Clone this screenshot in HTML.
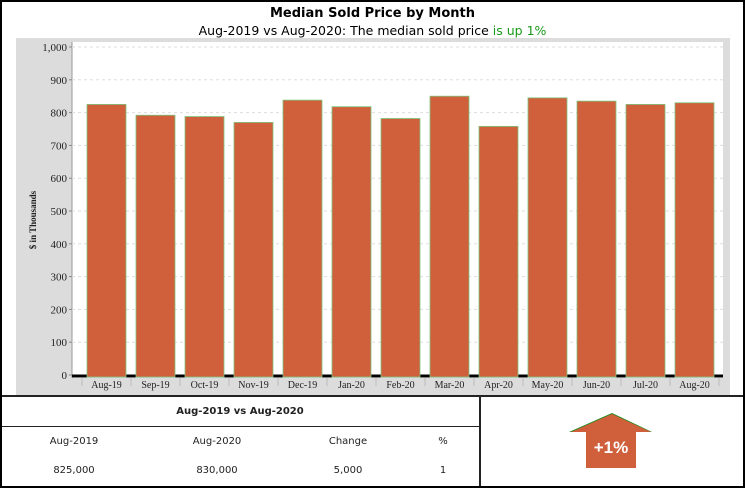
<!DOCTYPE html>
<html><head><meta charset="utf-8"><style>
body{margin:0;background:#fff;}
#wrap{position:relative;width:741px;height:484px;border:2px solid #000;font-family:"DejaVu Sans","Liberation Sans",sans-serif;overflow:hidden;}
.t{position:absolute;font-size:10px;color:#222;text-align:center;transform:translateX(-50%);white-space:nowrap;}
</style></head><body>
<div id="wrap">
<div style="position:absolute;left:0;width:741px;top:4px;text-align:center;font-weight:bold;font-size:13px;">Median Sold Price by Month</div>
<div style="position:absolute;left:0;width:741px;top:21px;text-align:center;font-size:12.5px;">Aug-2019 vs Aug-2020: The median sold price <span style="color:#1a9a1a">is up 1%</span></div>
<svg id="chart" width="741" height="400" style="position:absolute;left:0;top:0;font-family:'Liberation Serif',serif;"></svg>
<div style="position:absolute;left:0;top:393px;width:741px;height:2px;background:#222"></div>
<div style="position:absolute;left:477px;top:393px;width:2px;height:95px;background:#222"></div>
<div style="position:absolute;left:0;top:424px;width:478px;height:1px;background:#222"></div>
<div class="t" style="left:238px;top:404px;font-weight:bold;">Aug-2019 vs Aug-2020</div>
<div class="t" style="left:72px;top:434px;">Aug-2019</div>
<div class="t" style="left:215px;top:434px;">Aug-2020</div>
<div class="t" style="left:346px;top:434px;">Change</div>
<div class="t" style="left:441px;top:434px;">%</div>
<div class="t" style="left:72px;top:463px;">825,000</div>
<div class="t" style="left:215px;top:463px;">830,000</div>
<div class="t" style="left:346px;top:463px;">5,000</div>
<div class="t" style="left:441px;top:463px;">1</div>
<svg width="741" height="488" style="position:absolute;left:0;top:0;pointer-events:none">
<polygon points="567,430 610,411 650,430" fill="#1a8a1a"/>
<polygon points="569,430 610,412 649,430 634,430 634,466 584,466 584,430" fill="#d0603c"/>
<text x="609" y="451" text-anchor="middle" fill="#fff" font-weight="bold" font-size="17" font-family="Liberation Sans, sans-serif">+1%</text>
</svg>
</div>
<script>
const categories=["Aug-19","Sep-19","Oct-19","Nov-19","Dec-19","Jan-20","Feb-20","Mar-20","Apr-20","May-20","Jun-20","Jul-20","Aug-20"];
const values=[825,792,788,770,838,818,782,850,758,845,835,825,830];
const yTicks=[0,100,200,300,400,500,600,700,800,900,1000];
const yTickLabels=["0","100","200","300","400","500","600","700","800","900","1,000"];
const NS="http://www.w3.org/2000/svg";
const svg=document.getElementById('chart');
const pl=70,pr=721,pt=40,y0=373,y1=45,cx0=80,cw=49;
const ys=v=>y0-(v/1000)*(y0-y1);
const xs=i=>cx0+i*cw;
function mk(t,a){const e=document.createElementNS(NS,t);for(const k in a)e.setAttribute(k,a[k]);svg.appendChild(e);return e;}
let e=mk('rect',{x:14,y:36,width:714,height:357,fill:'#dcdcdc'});


e=mk('rect',{x:pl,y:pt,width:pr-pl,height:y0-pt+3,fill:'#fff'});


mk('line',{x1:pl,y1:pt,x2:pl,y2:y0+3,stroke:'#999'});
yTicks.forEach((v,i)=>{
 const y=ys(v);
 if(v>0){const g=mk('line',{x1:pl,y1:y,x2:pr,y2:y,stroke:'#ddd','stroke-dasharray':'3,3'});
 
 }
 mk('line',{x1:pl-3,y1:y,x2:pl,y2:y,stroke:'#888'});
 const t=mk('text',{x:pl-5,y:y+4,'text-anchor':'end','font-size':11,fill:'#222'});t.textContent=yTickLabels[i];
 
 
});
e=mk('line',{x1:pl,y1:y0+1,x2:pr,y2:y0+1,stroke:'#000','stroke-width':3});


categories.forEach((c,i)=>{
 const b=mk('rect',{x:xs(i)+5,y:ys(values[i]),width:39,height:y0-ys(values[i])+2,fill:'#d0603c',stroke:'#7cc47c','stroke-width':0.8});
 
 
 mk('line',{x1:xs(i),y1:y0+3,x2:xs(i),y2:y0+11,stroke:'#bbb'});
 const t=mk('text',{x:xs(i)+cw/2,y:y0+13,'text-anchor':'middle','font-size':10,fill:'#222'});t.textContent=c;
 
 
});
mk('line',{x1:xs(categories.length),y1:y0+3,x2:xs(categories.length),y2:y0+11,stroke:'#bbb'});
e=mk('text',{x:0,y:0,transform:'translate(34,218) rotate(-90)','text-anchor':'middle','font-size':9,'font-weight':'bold',fill:'#222'});
e.textContent='$ in Thousands';


</script>
</body></html>
